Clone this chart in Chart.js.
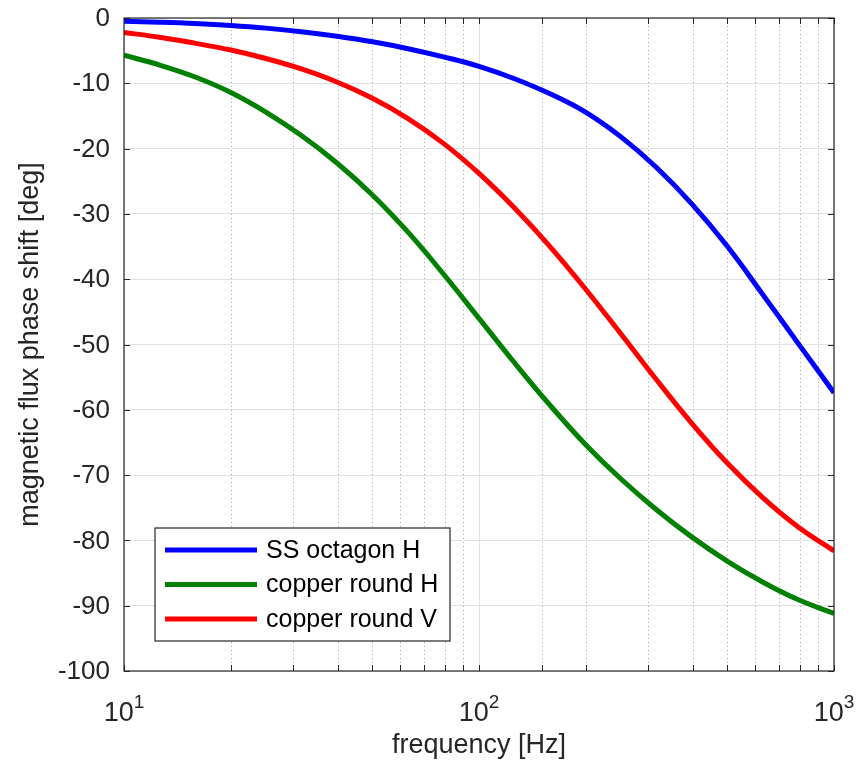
<!DOCTYPE html>
<html>
<head>
<meta charset="utf-8">
<script src="https://cdn.jsdelivr.net/npm/chart.js@4/dist/chart.umd.min.js"></script>
<style>
  html, body { margin: 0; padding: 0; background: #fff; }
  #wrap { width: 859px; height: 765px; }
</style>
</head>
<body>
<div id="wrap"><canvas id="myChart" width="859" height="765"></canvas></div>
<script>
// frequency [Hz] and phase shift [deg] (10 points per decade)
const freqs = [10, 12.6, 15.8, 20, 25.1, 31.6, 39.8, 50.1, 63.1, 79.4, 100, 125.9, 158.5, 199.5, 251.2, 316.2, 398.1, 501.2, 631, 794.3, 1000];
const ssOctagonH = [-0.5, -0.65, -0.85, -1.15, -1.55, -2.1, -2.8, -3.65, -4.7, -5.95, -7.4, -9.3, -11.6, -14.4, -18.2, -22.9, -28.5, -35.0, -42.4, -49.9, -57.4];
const copperRoundH = [-5.7, -7.2, -9.0, -11.4, -14.4, -18.0, -22.2, -27.1, -32.8, -39.2, -46.0, -52.8, -59.3, -65.3, -70.6, -75.3, -79.5, -83.2, -86.4, -89.1, -91.2];
const copperRoundV = [-2.2, -2.95, -3.85, -4.9, -6.2, -7.8, -9.8, -12.3, -15.4, -19.2, -23.8, -29.1, -35.0, -41.5, -48.4, -55.4, -62.1, -68.2, -73.5, -78.0, -81.6];

const seriesLabels = ["SS octagon H", "copper round H", "copper round V"];
const seriesColors = ["#0000ff", "#008000", "#ff0000"];
const yTicks = [0, -10, -20, -30, -40, -50, -60, -70, -80, -90, -100];

const axisColor = "#262626";
const gridColor = "#e0e0e0";
const font = "'Liberation Sans', Arial, sans-serif";

const isDecade = (v) => Math.abs(Math.log10(v) - Math.round(Math.log10(v))) < 1e-9;
const toPoints = (ys) => freqs.map((f, i) => ({ x: f, y: ys[i] }));

const matlabAxes = {
    id: "matlabAxes",
    beforeDatasetsDraw(chart) {
        const { ctx, chartArea: a, scales } = chart;
        // dotted minor grid on the log axis
        ctx.save();
        ctx.strokeStyle = "rgba(0,0,0,0.35)";
        ctx.lineWidth = 1;
        ctx.setLineDash([1, 3]);
        scales.x.ticks.forEach((t) => {
            if (isDecade(t.value)) return;
            const px = Math.round(scales.x.getPixelForValue(t.value)) + 0.5;
            ctx.beginPath();
            ctx.moveTo(px, a.top);
            ctx.lineTo(px, a.bottom);
            ctx.stroke();
        });
        ctx.restore();
    },
    afterDraw(chart) {
        const { ctx, chartArea: a, scales } = chart;
        ctx.save();
        ctx.strokeStyle = axisColor;
        ctx.lineWidth = 1.2;
        ctx.setLineDash([]);
        ctx.strokeRect(a.left, a.top, a.right - a.left, a.bottom - a.top);

        // inner ticks
        ctx.lineWidth = 1;
        scales.x.ticks.forEach((t) => {
            const px = Math.round(scales.x.getPixelForValue(t.value)) + 0.5;
            ctx.beginPath();
            ctx.moveTo(px, a.bottom); ctx.lineTo(px, a.bottom - 6);
            ctx.moveTo(px, a.top); ctx.lineTo(px, a.top + 6);
            ctx.stroke();
        });
        yTicks.forEach((v) => {
            const py = Math.round(scales.y.getPixelForValue(v)) + 0.5;
            ctx.beginPath();
            ctx.moveTo(a.left, py); ctx.lineTo(a.left + 6, py);
            ctx.moveTo(a.right, py); ctx.lineTo(a.right - 6, py);
            ctx.stroke();
        });

        // y tick labels
        ctx.fillStyle = axisColor;
        ctx.font = "26px " + font;
        ctx.textAlign = "right";
        ctx.textBaseline = "middle";
        yTicks.forEach((v) => {
            ctx.fillText(String(v), a.left - 14, scales.y.getPixelForValue(v) + 1);
        });

        // x tick labels 10^n
        ctx.textAlign = "left";
        ctx.textBaseline = "alphabetic";
        scales.x.ticks.forEach((t) => {
            if (!isDecade(t.value)) return;
            const base = "10";
            const exp = String(Math.round(Math.log10(t.value)));
            ctx.font = "27px " + font;
            const wb = ctx.measureText(base).width;
            ctx.font = "19px " + font;
            const we = ctx.measureText(exp).width;
            const px = scales.x.getPixelForValue(t.value);
            const x0 = px - (wb + we) / 2;
            ctx.font = "27px " + font;
            ctx.fillText(base, x0, a.bottom + 50);
            ctx.font = "19px " + font;
            ctx.fillText(exp, x0 + wb, a.bottom + 37);
        });

        // axis titles
        ctx.font = "27px " + font;
        ctx.textAlign = "center";
        ctx.fillText("frequency [Hz]", (a.left + a.right) / 2, a.bottom + 82);
        ctx.save();
        ctx.translate(38, (a.top + a.bottom) / 2);
        ctx.rotate(-Math.PI / 2);
        ctx.fillText("magnetic flux phase shift [deg]", 0, 0);
        ctx.restore();

        // legend box in lower left
        const lx = a.left + 31, ly = a.bottom - 143, lw = 295, lh = 113;
        ctx.fillStyle = "#fff";
        ctx.fillRect(lx, ly, lw, lh);
        ctx.strokeStyle = axisColor;
        ctx.lineWidth = 1.2;
        ctx.strokeRect(lx, ly, lw, lh);
        ctx.font = "25px " + font;
        ctx.textAlign = "left";
        ctx.textBaseline = "middle";
        chart.data.datasets.forEach((ds, i) => {
            const yy = ly + 22 + i * 34.5;
            ctx.strokeStyle = ds.borderColor;
            ctx.lineWidth = 5;
            ctx.beginPath();
            ctx.moveTo(lx + 10, yy);
            ctx.lineTo(lx + 102, yy);
            ctx.stroke();
            ctx.fillStyle = "#000";
            ctx.fillText(ds.label, lx + 111, yy + 1);
        });
        ctx.restore();
    },
};

new Chart(document.getElementById("myChart"), {
    type: "line",
    data: {
        datasets: [ssOctagonH, copperRoundH, copperRoundV].map((ys, i) => ({
            label: seriesLabels[i],
            data: toPoints(ys),
            borderColor: seriesColors[i],
            borderWidth: 5,
            pointRadius: 0,
            tension: 0.4,
            fill: false,
        })),
    },
    options: {
        responsive: false,
        animation: false,
        events: [],
        layout: {
            padding: { left: 124, top: 18, right: 25, bottom: 94 },
        },
        scales: {
            x: {
                type: "logarithmic",
                min: 10,
                max: 1000,
                ticks: { display: false },
                grid: {
                    drawTicks: false,
                    color: (c) => (c.tick && isDecade(c.tick.value) ? gridColor : "rgba(0,0,0,0)"),
                },
                border: { display: false },
            },
            y: {
                min: -100,
                max: 0,
                ticks: { display: false, stepSize: 10 },
                grid: { drawTicks: false, color: gridColor },
                border: { display: false },
            },
        },
        plugins: {
            legend: { display: false },
            tooltip: { enabled: false },
        },
    },
    plugins: [matlabAxes],
});
</script>
</body>
</html>
